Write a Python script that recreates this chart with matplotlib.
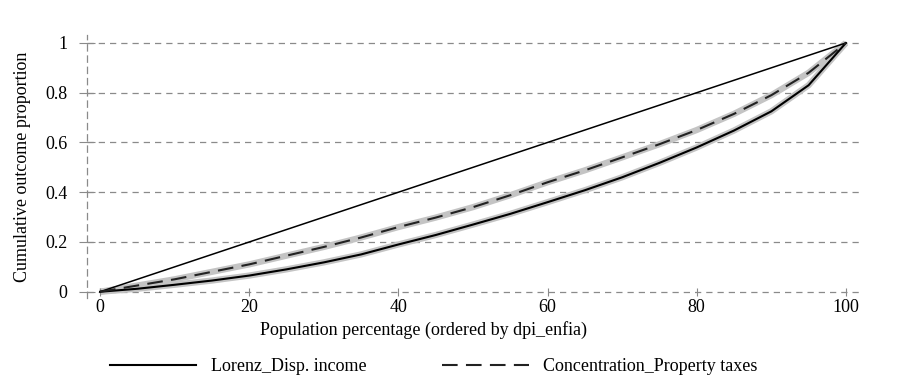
import numpy as np
import matplotlib.pyplot as plt

plt.rcParams['font.family'] = ['Liberation Serif', 'DejaVu Serif']

pop = [0, 5, 10, 15, 20, 25, 30, 35, 40, 45, 50, 55, 60, 65, 70, 75, 80, 85, 90, 95, 100]
lorenz_income = [0, 0.012, 0.028, 0.045, 0.065, 0.09, 0.118, 0.15, 0.19, 0.228, 0.27,
                 0.313, 0.36, 0.408, 0.46, 0.518, 0.58, 0.648, 0.725, 0.83, 1.0]
conc_property = [0, 0.025, 0.05, 0.08, 0.11, 0.145, 0.18, 0.218, 0.26, 0.298, 0.34,
                 0.388, 0.44, 0.488, 0.54, 0.593, 0.65, 0.715, 0.79, 0.88, 1.0]
equality = [0, 100]
yticks = [0, 0.2, 0.4, 0.6, 0.8, 1]
ytick_labels = ['0', '0.2', '0.4', '0.6', '0.8', '1']
xticks = [0, 20, 40, 60, 80, 100]

fig = plt.figure(figsize=(9, 3.9), dpi=100)
ax = fig.add_axes([0.0967, 0.236, 0.8589, 0.673])

grid_col = '#8a8a8a'
for y in yticks:
    ax.axhline(y, color=grid_col, lw=0.9, ls=(0, (5, 4)), zorder=0)

# confidence bands drawn as wide light lines
ax.plot(pop, lorenz_income, color='#c4c4c4', lw=4.5, solid_capstyle='butt', zorder=1)
ax.plot(pop, conc_property, color='#c4c4c4', lw=4.5, solid_capstyle='butt', zorder=1)

ax.plot(equality, [0, 1], color='black', lw=1.1, zorder=2)
l1, = ax.plot(pop, lorenz_income, color='black', lw=1.5, zorder=3,
              label='Lorenz_Disp. income')
l2, = ax.plot(pop, conc_property, color='#222222', lw=1.5, ls=(0, (7.5, 4)), zorder=3,
              label='Concentration_Property taxes')

ax.set_xlim(-1.75, 101.9)
ax.set_ylim(-0.025, 1.03)

for s in ['top', 'right']:
    ax.spines[s].set_visible(False)
ax.spines['bottom'].set_position(('data', 0))
ax.spines['bottom'].set_visible(False)
ax.spines['left'].set_linestyle((0, (5, 4)))
ax.spines['left'].set_color(grid_col)
ax.spines['left'].set_linewidth(0.9)

ax.set_yticks(yticks)
ax.set_yticklabels(ytick_labels)
ax.set_xticks(xticks)
ax.tick_params(axis='y', direction='inout', length=12, color=grid_col, labelsize=13, pad=8)
ax.tick_params(axis='x', direction='inout', length=6, color=grid_col, labelsize=13, pad=2)

ax.set_ylabel('Cumulative outcome proportion', fontsize=13, labelpad=10)
fig.text(0.47, 0.155, 'Population percentage (ordered by dpi_enfia)', fontsize=13,
         ha='center', va='center')

fig.legend(handles=[l1, l2], loc='center', bbox_to_anchor=(0.482, 0.059), ncol=2,
           frameon=False, fontsize=13, handlelength=4.8, handletextpad=0.8,
           columnspacing=4.2)

fig.savefig('out.png', dpi=100)
